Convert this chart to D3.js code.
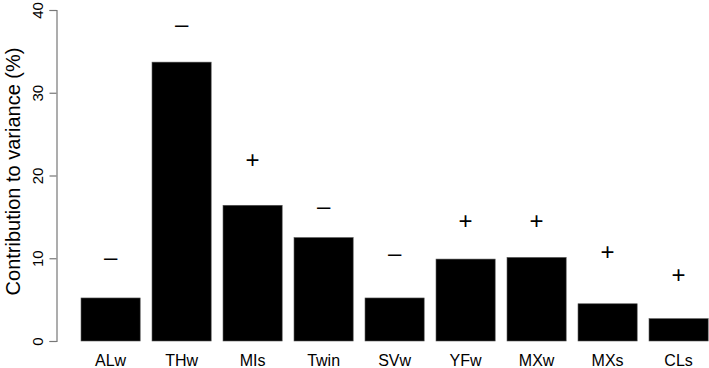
<!DOCTYPE html>
<html>
<head>
<meta charset="utf-8">
<script src="https://cdn.jsdelivr.net/npm/d3@7"></script>
<style>
  body { margin: 0; background: #fff; }
  text { font-family: "Liberation Sans", Arial, sans-serif; }
</style>
</head>
<body>
<script>
// variables and their contribution to variance (%)
var categories = ["ALw", "THw", "MIs", "Twin", "SVw", "YFw", "MXw", "MXs", "CLs"];
var contributions = [5.2, 33.7, 16.4, 12.5, 5.2, 9.9, 10.1, 4.5, 2.7];
// sign of loading, and the height where it is written
var signs = ["-", "-", "+", "-", "-", "+", "+", "+", "+"];
var signHeights = [10.1, 38.3, 21.8, 16.3, 10.6, 14.4, 14.5, 10.7, 7.9];
var yTicks = [0, 10, 20, 30, 40];

var width = 709, height = 368;

var svg = d3.select("body").append("svg")
    .attr("width", width).attr("height", height);

var x = d3.scaleBand().domain(categories)
    .range([75.1, 714.1])
    .paddingInner(1 / 6).paddingOuter(1 / 12);

var y = d3.scaleLinear().domain([0, 40]).range([341, 10]);

// bars
svg.append("g").selectAll("rect").data(contributions).enter()
    .append("rect")
    .attr("x", function (d, i) { return x(categories[i]); })
    .attr("width", x.bandwidth())
    .attr("y", function (d) { return y(d); })
    .attr("height", function (d) { return y(0) - y(d); })
    .attr("fill", "#000")
    .attr("stroke", "#555").attr("stroke-width", 0.6);

// + / - signs above the bars
svg.append("g").selectAll("text").data(signs).enter()
    .append("text")
    .attr("x", function (d, i) { return x(categories[i]) + x.bandwidth() / 2; })
    .attr("y", function (d, i) { return y(signHeights[i]) + 7.6; })
    .attr("text-anchor", "middle")
    .attr("font-size", 24)
    .text(function (d) { return d == "-" ? "\u2013" : "+"; });

// y axis
var yAxis = svg.append("g")
    .attr("transform", "translate(56.5,0)")
    .call(d3.axisLeft(y).tickValues(yTicks).tickSize(7).tickPadding(10));
yAxis.select(".domain").attr("stroke", "#777").attr("stroke-width", 1.2);
yAxis.selectAll(".tick line").attr("stroke", "#777").attr("stroke-width", 1.2);
yAxis.selectAll(".tick text")
    .attr("font-size", 15).attr("fill", "#000")
    .attr("text-anchor", "middle")
    .attr("dy", null)
    .attr("transform", function (d) { return "translate(-14," + 0 + ") rotate(-90)"; })
    .attr("x", 0).attr("y", 0);
yAxis.attr("font-family", null);

// category labels
svg.append("g").selectAll("text").data(categories).enter()
    .append("text")
    .attr("x", function (d) { return x(d) + x.bandwidth() / 2; })
    .attr("y", 366)
    .attr("text-anchor", "middle")
    .attr("font-size", 16)
    .text(function (d) { return d; });

// y title
svg.append("text")
    .attr("transform", "translate(20,171.5) rotate(-90)")
    .attr("text-anchor", "middle")
    .attr("font-size", 20)
    .text("Contribution to variance (%)");
</script>
</body>
</html>
